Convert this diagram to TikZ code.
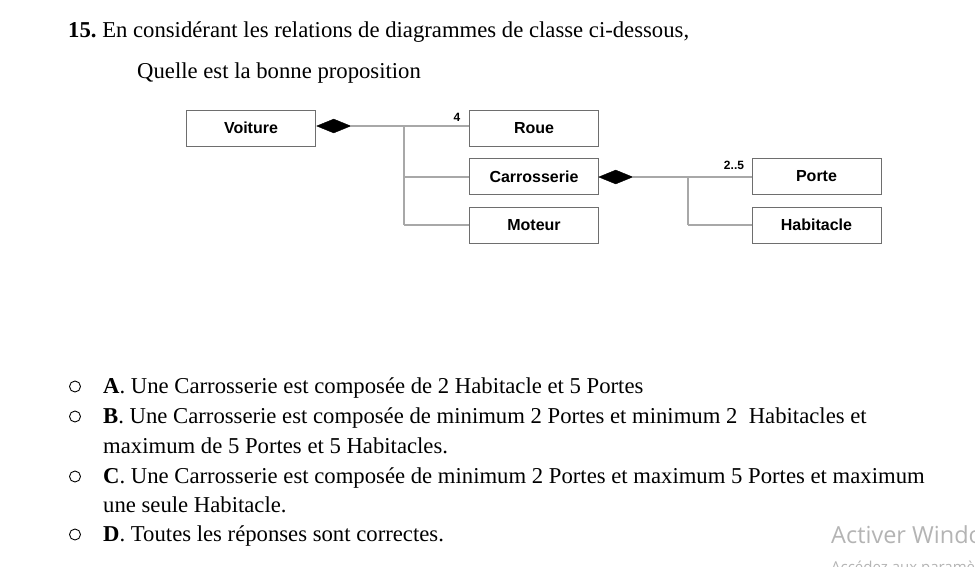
\documentclass[tikz,border=0pt]{standalone}
\usepackage{fontspec}
\setmainfont{Liberation Serif}
\newfontfamily\diagfont{Liberation Sans}
\newfontfamily\wmfont{Open Sans}
\usetikzlibrary{shapes.geometric}
\definecolor{boxline}{HTML}{6E6E6E}
\definecolor{conn}{HTML}{A8A8A8}
\definecolor{wmgray}{HTML}{B4B4B4}
\begin{document}
\frenchspacing
\begin{tikzpicture}[x=1pt,y=-1pt,
  txt/.style={anchor=base west,inner sep=0pt,font=\fontsize{22.7}{26}\selectfont},
  cls/.style={draw=boxline,line width=0.9pt,minimum width=129pt,minimum height=36pt,inner sep=0pt,font=\diagfont\bfseries\fontsize{16}{19}\selectfont},
  comp/.style={diamond,fill=black,draw=black,inner sep=0pt,minimum width=34pt,minimum height=14pt,anchor=west},
  link/.style={draw=conn,line width=1.3pt},
  mult/.style={inner sep=0pt,font=\diagfont\bfseries\fontsize{12}{14}\selectfont},
  bullet/.style={circle,draw=black,line width=0.9pt,minimum size=11pt,inner sep=0pt}
]
\useasboundingbox (0,0) rectangle (975,566);
\clip (0,0) rectangle (975,566);
\fill[white] (0,0) rectangle (975,566);

% heading
\node[txt] (q) at (68,37) {\textbf{15.} En considérant les relations de diagrammes de classe ci-dessous,};
\node[txt] (q2) at (137,78) {Quelle est la bonne proposition};

% classes
\node[cls] (voiture) at (251,128) {Voiture};
\node[cls] (roue) at (534,128) {Roue};
\node[cls] (carr) at (534,176.5) {Carrosserie};
\node[cls] (moteur) at (534,225) {Moteur};
\node[cls] (porte) at (816.5,176.5) {Porte};
\node[cls] (habit) at (816.5,225) {Habitacle};

% composition diamonds
\node[comp] (d1) at (316.5,126) {};
\node[comp] (d2) at (598.5,177) {};

% connectors Voiture
\coordinate (j1) at (404,126);
\coordinate (j1c) at (404,177);
\coordinate (j1m) at (404,225);
\draw[link] (d1.east) -- (d1.east -| roue.west);
\draw[link] (j1) -- (j1m);
\draw[link] (j1c) -- (j1c -| carr.west);
\draw[link] (j1m) -- (moteur.west);

% connectors Carrosserie
\coordinate (j2) at (688,177);
\coordinate (j2h) at (688,225);
\draw[link] (d2.east) -- (d2.east -| porte.west);
\draw[link] (j2) -- (j2h);
\draw[link] (j2h) -- (habit.west);

% multiplicities
\node[mult] (m1) at (457,117) {4};
\node[mult] (m2) at (734,165) {2..5};

% options
\node[bullet] (ba) at (75,386.5) {};
\node[txt] (oa) at (103,393) {\textbf{A}. Une Carrosserie est composée de 2 Habitacle et 5 Portes};
\node[bullet] (bb) at (75,416.5) {};
\node[txt] (ob) at (103,423) {\textbf{B}. Une Carrosserie est composée de minimum 2 Portes et minimum 2~ Habitacles et};
\node[txt] (ob2) at (103,453) {maximum de 5 Portes et 5 Habitacles.};
\node[bullet] (bc) at (75,476.5) {};
\node[txt] (oc) at (103,483) {\textbf{C}. Une Carrosserie est composée de minimum 2 Portes et maximum 5 Portes et maximum};
\node[txt] (oc2) at (103,512) {une seule Habitacle.};
\node[bullet] (bd) at (75,534.5) {};
\node[txt] (od) at (103,541) {\textbf{D}. Toutes les réponses sont correctes.};

% watermark
\node[anchor=base west,inner sep=0pt,text=wmgray,font=\wmfont\fontsize{23.5}{28}\selectfont] (wm1) at (831,543) {Activer Windows};
\node[anchor=base west,inner sep=0pt,text=wmgray,font=\wmfont\fontsize{15}{18}\selectfont] (wm2) at (831,572) {Accédez aux paramètres};
\end{tikzpicture}
\end{document}
